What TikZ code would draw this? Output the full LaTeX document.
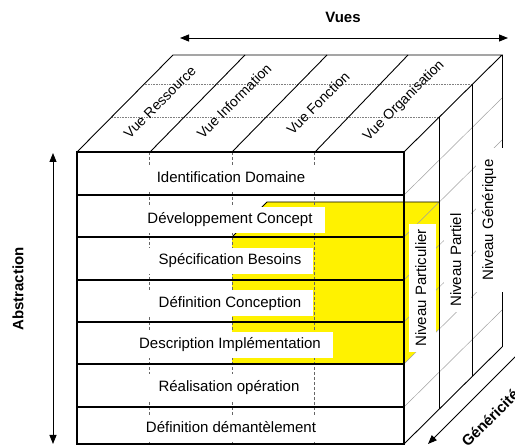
\documentclass[tikz,border=0pt]{standalone}
\usepackage{fontspec}
\setmainfont{Liberation Sans}
\usetikzlibrary{arrows.meta}
\tikzset{
  fnt/.style={font=\fontsize{15}{18}\selectfont},
  rowlab/.style={fnt, fill=white, inner xsep=12pt, inner ysep=6pt, text height=11pt, text depth=3pt},
  vuelab/.style={font=\fontsize{14}{17}\selectfont, rotate=45, inner sep=0pt},
  nivlab/.style={fnt, fill=white, rotate=90, inner xsep=5pt, inner ysep=6.5pt, text height=11pt, text depth=3pt},
  boldlab/.style={font=\fontsize{15}{18}\selectfont\bfseries, inner sep=0pt},
  frontline/.style={line width=1.4pt, black},
  topline/.style={line width=0.9pt, black},
  dotline/.style={line width=0.6pt, gray, densely dotted},
  dashline/.style={line width=0.6pt, gray!80!black, dash pattern=on 3pt off 2pt},
  sideline/.style={line width=0.5pt, gray!75},
  dblarrow/.style={line width=0.9pt, {Triangle[length=9pt,width=7pt]}-{Triangle[length=9pt,width=7pt]}},
  onearrow/.style={line width=0.9pt, -{Triangle[length=9pt,width=7pt]}},
}
\begin{document}
\begin{tikzpicture}[x=1pt,y=-1pt]
\useasboundingbox (0,0) rectangle (515,446);
\clip (0,0) rectangle (515,446);

% yellow block
\fill[yellow] (232,237) -- (267,202) -- (439,202) -- (439,329) -- (404,364) -- (232,364) -- cycle;

% top face
\draw[dotline] (112,117) -- (439,117);
\draw[dotline] (143,84) -- (472,84);
\draw[topline] (77,152) -- (173,55) -- (502,55) -- (404,152);
\draw[topline] (150,152) -- (245,55);
\draw[topline] (232,152) -- (327,55);
\draw[topline] (315,152) -- (408,55);

% right face
\foreach \y in {195,237,280,322,364,407}
  \draw[sideline] (404,\y) -- (502,\y-97);
\draw[topline] (439,117) -- (439,409);
\draw[topline] (472,84) -- (472,376);
\draw[topline] (502,55) -- (502,347);
\draw[topline] (404,444) -- (502,347);

% yellow block edges
\draw[line width=0.8pt] (232,237) -- (267,202) -- (439,202);

% front face
\foreach \x in {149,232,314}
  \draw[dashline] (\x,152) -- (\x,444);
\foreach \y in {195,237,280,322,364,407}
  \draw[frontline] (77,\y) -- (404,\y);
\draw[frontline] (77,152) rectangle (404,444);

% row labels
\node[rowlab] (r1) at (231,178.5) {Identification Domaine};
\node[rowlab] (r2) at (230,220) {Développement Concept};
\node[rowlab] (r3) at (230,261) {Spécification Besoins};
\node[rowlab] (r4) at (230,303.5) {Définition Conception};
\node[rowlab] (r5) at (230,345) {Description Implémentation};
\node[rowlab] (r6) at (229,387.5) {Réalisation opération};
\node[rowlab] (r7) at (231,428.5) {Définition démantèlement};

% view labels
\node[vuelab] (v1) at (160,102) {Vue Ressource};
\node[vuelab] (v2) at (234,101) {Vue Information};
\node[vuelab] (v3) at (318,103) {Vue Fonction};
\node[vuelab] (v4) at (404,101) {Vue Organisation};

% level labels
\node[nivlab] (n1) at (422,288) {Niveau Particulier};
\node[nivlab] (n2) at (457,260) {Niveau Partiel};
\node[nivlab, minimum width=144pt, minimum height=27pt] (n3) at (489,220) {Niveau Générique};

% axes
\node[boldlab] (vues) at (343,17) {Vues};
\coordinate (va) at (180,38);
\coordinate (vb) at (508,38);
\draw[dblarrow] (va) -- (vb);

\node[boldlab, rotate=90] (abs) at (18,289) {Abstraction};
\coordinate (aa) at (53,153);
\coordinate (ab) at (53,444);
\draw[dblarrow] (aa) -- (ab);

\node[boldlab, rotate=45] (gen) at (490,418) {Généricité};
\coordinate (ga) at (540,332);
\coordinate (gb) at (428,444);
\draw[onearrow] (ga) -- (gb);
\end{tikzpicture}
\end{document}
